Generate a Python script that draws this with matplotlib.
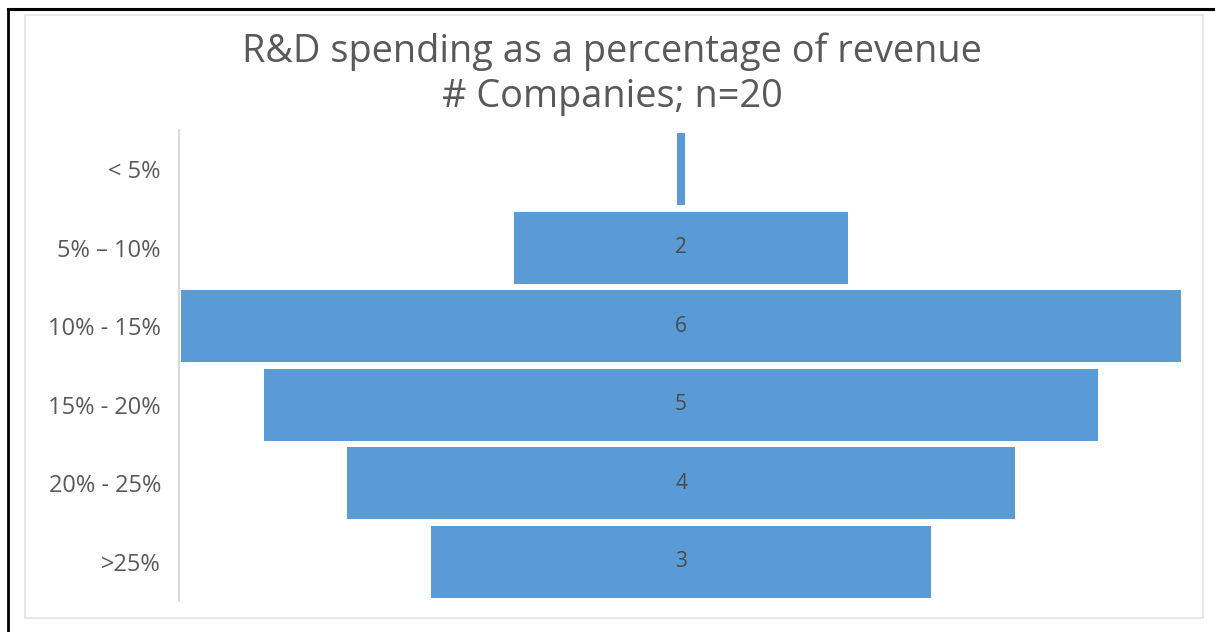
import matplotlib.pyplot as plt
from matplotlib.patches import Rectangle
from matplotlib.lines import Line2D

plt.rcParams['font.family'] = ['Open Sans', 'DejaVu Sans']

# data
categories = ['< 5%', '5% \u2013 10%', '10% - 15%', '15% - 20%', '20% - 25%', '>25%']
companies = [0, 2, 6, 5, 4, 3]

bar_color = '#5B9BD5'
W, H = 1215, 632

fig = plt.figure(figsize=(W / 100, H / 100), dpi=100)
fig.patch.set_facecolor('white')

# outer black frame (top and left visible) and chart area border
fig.add_artist(Line2D([8 / W, 8 / W], [0, 1 - 9 / H], color='black', lw=2))
fig.add_artist(Line2D([8 / W, 1], [1 - 9 / H, 1 - 9 / H], color='black', lw=2.2))
fig.add_artist(Rectangle((25 / W, 1 - 618 / H), (1203 - 25) / W, (618 - 15) / H,
                         transform=fig.transFigure, fill=False, ec='#E3E3E3', lw=1.2))

ax = fig.add_axes([179 / W, 1 - 601 / H, (1183 - 179) / W, (601 - 130) / H])
ypos = list(range(len(categories)))
widths = [max(v, 0.045) for v in companies]
ax.barh(ypos, widths, left=[-w / 2 for w in widths], height=0.915, color=bar_color)
for y, v in zip(ypos, companies):
    if v > 0:
        ax.text(0, y, str(v), ha='center', va='center', fontsize=15, color='#4a4a4a')

ax.set_xlim(-3.01, 3.01)
ax.set_ylim(len(categories) - 0.5, -0.5)
ax.set_yticks(ypos)
ax.set_yticklabels(categories, fontsize=17, color='#595959')
ax.tick_params(axis='y', length=0, pad=13)
ax.set_xticks([])
for s in ['top', 'right', 'bottom']:
    ax.spines[s].set_visible(False)
ax.spines['left'].set_color('#D9D9D9')
ax.spines['left'].set_linewidth(1.5)

fig.text(612 / W, 1 - 52 / H, 'R&D spending as a percentage of revenue',
         ha='center', va='center', fontsize=27.3, color='#595959')
fig.text(612 / W, 1 - 97 / H, '# Companies; n=20',
         ha='center', va='center', fontsize=27.3, color='#595959')

fig.savefig('out.png', dpi=100)
